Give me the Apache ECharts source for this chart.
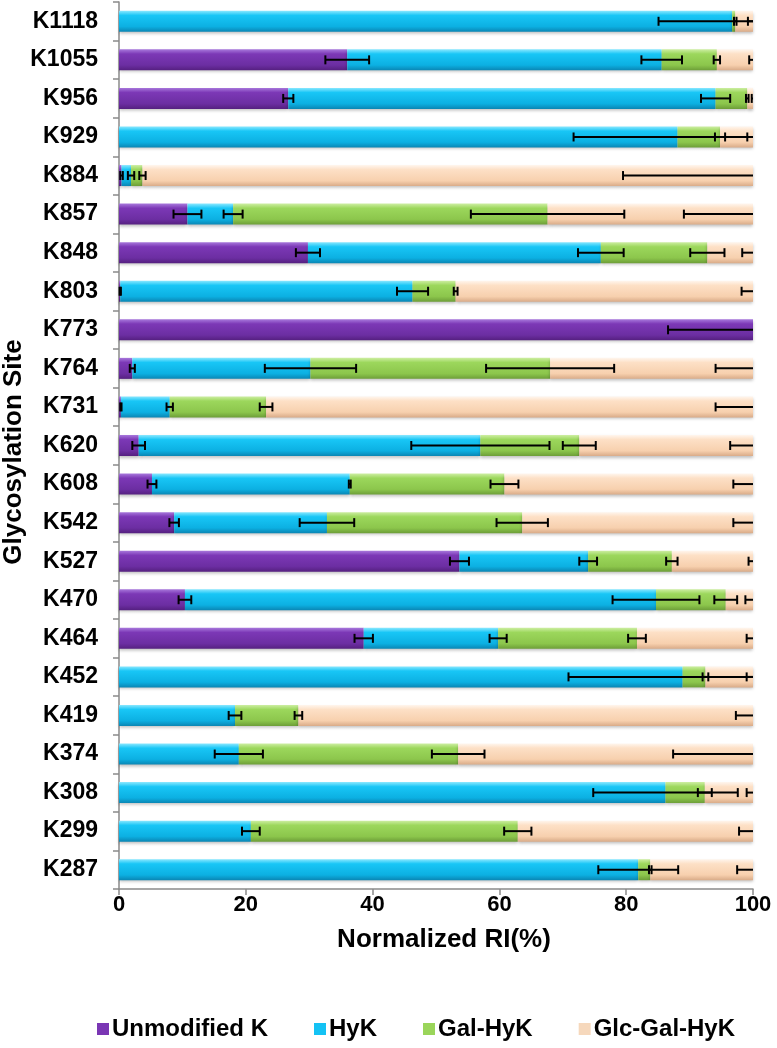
<!DOCTYPE html>
<html>
<head>
<meta charset="utf-8">
<script src="https://cdn.jsdelivr.net/npm/echarts@6/dist/echarts.min.js"></script>
<style>
html,body{margin:0;padding:0;background:#fff;}
#chart{width:777px;height:1048px;}
</style>
</head>
<body>
<div id="chart"></div>
<script>
const categories = ['K1118','K1055','K956','K929','K884','K857','K848','K803','K773','K764','K731','K620','K608','K542','K527','K470','K464','K452','K419','K374','K308','K299','K287'];
const seriesNames = ['Unmodified K','HyK','Gal-HyK','Glc-Gal-HyK'];
const xTicks = [0,20,40,60,80,100];

const unmodified = [0,36.0,26.7,0,0.4,10.8,29.8,0.2,100,2.1,0.3,3.1,5.2,8.7,53.7,10.4,38.6,0,0,0,0,0,0];
const hyk        = [96.7,49.6,67.4,88.1,1.5,7.2,46.2,46.1,0,28.1,7.7,53.9,31.2,24.1,20.3,74.3,21.2,88.9,18.3,18.9,86.2,20.8,81.9];
const galHyk     = [0.5,8.7,5.0,6.7,1.8,49.6,16.8,6.8,0,37.8,15.2,15.6,24.4,30.8,13.2,11.0,21.9,3.6,10.0,34.6,6.2,42.1,1.9];
const glcGalHyk  = [2.8,5.7,0.9,5.2,96.3,32.4,7.2,46.9,0,32.0,76.8,27.4,39.2,36.4,12.8,4.3,18.3,7.5,71.7,46.5,7.6,37.1,16.2];

const errUnmodified = [0,3.45,0.8,0,0.2,2.2,1.9,0.1,13.4,0.4,0.1,1.0,0.7,0.75,1.5,1.0,1.45,0,0,0,0,0,0];
const errHyk        = [11.6,3.2,2.3,16.4,0.5,1.5,3.6,2.45,0,7.2,0.5,10.9,0.15,4.3,1.4,6.85,1.35,18,1.0,3.8,11.4,1.4,6.3];
const errGalHyk     = [0.2,0.5,0.2,0.8,0.5,12.1,2.7,0.3,0,10.1,1.0,2.6,2.2,4.05,0.9,1.8,1.4,0.45,0.6,4.15,1.1,2.15,0.2];
const errGlcGalHyk  = [0.8,0.6,0.2,0.9,20.5,10.9,1.7,1.8,0,5.9,5.9,3.6,3.1,3.1,0.7,1.2,1.0,1.0,2.7,12.6,1.0,2.2,2.5];

const values = [unmodified, hyk, galHyk, glcGalHyk];
const errors = [errUnmodified, errHyk, errGalHyk, errGlcGalHyk];

const palettes = [
  ['#a878dc','#7c38b6','#6c2ea2','#552080'],
  ['#8ae8ff','#18c6f6','#0cb0e2','#0a86b4'],
  ['#cdeea2','#9cd75c','#8cc64c','#6d9e38'],
  ['#fff6ee','#fde0c6','#f7d0ae','#d9ab88']
];
function grad(p){
  return new echarts.graphic.LinearGradient(0,0,0,1,[
    {offset:0,color:p[0]},{offset:0.22,color:p[1]},{offset:0.75,color:p[2]},{offset:1,color:p[3]}
  ]);
}
const legendColors = ['#7a36b4','#14c2f4','#9ad55a','#f6d8bc'];

const errData = [];
for (let s = 0; s < 4; s++) {
  for (let j = 0; j < categories.length; j++) {
    let cum = 0;
    for (let k = 0; k <= s; k++) cum += values[k][j];
    if (errors[s][j] > 0) errData.push([Math.round(cum*100)/100, j, errors[s][j]]);
  }
}

const font = 'Liberation Sans, Arial, sans-serif';
const chart = echarts.init(document.getElementById('chart'));

const barSeries = seriesNames.map((name, i) => ({
  name: name,
  type: 'bar',
  stack: 'total',
  barWidth: 21,
  data: values[i],
  itemStyle: {
    color: grad(palettes[i]),
    shadowBlur: 3,
    shadowColor: 'rgba(0,0,0,0.25)',
    shadowOffsetY: 2
  },
  emphasis: {disabled: true},
  animation: false
}));

const errorSeries = {
  type: 'custom',
  name: 'err',
  data: errData,
  encode: {x: 0, y: 1},
  z: 10,
  clip: false,
  animation: false,
  renderItem: function(params, api) {
    const end = api.value(0), cat = api.value(1), e = api.value(2);
    const lo = Math.max(0, end - e), hi = Math.min(100, end + e);
    const p1 = api.coord([lo, cat]);
    const p2 = api.coord([hi, cat]);
    const h = 4.5;
    const st = {stroke: '#000', lineWidth: 2};
    const children = [{type:'line', shape:{x1:p1[0], y1:p1[1], x2:p2[0], y2:p2[1]}, style: st}];
    if (end - e >= 0) children.push({type:'line', shape:{x1:p1[0], y1:p1[1]-h, x2:p1[0], y2:p1[1]+h}, style: st});
    if (end + e <= 100) children.push({type:'line', shape:{x1:p2[0], y1:p2[1]-h, x2:p2[0], y2:p2[1]+h}, style: st});
    return {type:'group', children: children};
  }
};

chart.setOption({
  backgroundColor: '#fff',
  animation: false,
  textStyle: {fontFamily: font},
  legend: {
    data: seriesNames.map((n, i) => ({name: n, itemStyle: {color: legendColors[i]}})),
    bottom: 2,
    left: 92,
    icon: 'rect',
    itemWidth: 12,
    itemHeight: 12,
    itemGap: 46,
    textStyle: {fontFamily: font, fontSize: 24, fontWeight: 'bold', color: '#000', padding: [0,0,0,-2]}
  },
  graphic: [{
    type: 'text',
    x: 14, y: 452,
    rotation: Math.PI / 2,
    style: {text: 'Glycosylation Site', fontFamily: font, fontSize: 26, fontWeight: 'bold', fill: '#000',
      align: 'center', verticalAlign: 'middle'}
  }],
  grid: {left: 119, right: 24, top: 2, bottom: 159, containLabel: false, outerBoundsMode: 'none'},
  xAxis: {
    type: 'value',
    min: 0, max: 100, interval: 20,
    name: 'Normalized RI(%)',
    nameLocation: 'middle',
    nameGap: 38,
    nameTextStyle: {fontFamily: font, fontSize: 26, fontWeight: 'bold', color: '#000', padding: [0,0,0,16]},
    axisLine: {show: true, lineStyle: {color: '#8a8a8a', width: 1.5}},
    axisTick: {show: true, length: 6, lineStyle: {color: '#8a8a8a', width: 1.5}},
    splitLine: {show: false},
    axisLabel: {fontFamily: font, fontSize: 22, fontWeight: 'bold', color: '#000', margin: 5,
      formatter: v => xTicks.includes(v) ? String(v) : ''}
  },
  yAxis: {
    type: 'category',
    data: categories,
    inverse: true,
    axisLine: {show: true, lineStyle: {color: '#8a8a8a', width: 1.5}},
    axisTick: {show: true, length: 6, lineStyle: {color: '#8a8a8a', width: 1.5}},
    axisLabel: {fontFamily: font, fontSize: 23, fontWeight: 'bold', color: '#000', margin: 21}
  },
  series: barSeries.concat([errorSeries])
});
</script>
</body>
</html>
